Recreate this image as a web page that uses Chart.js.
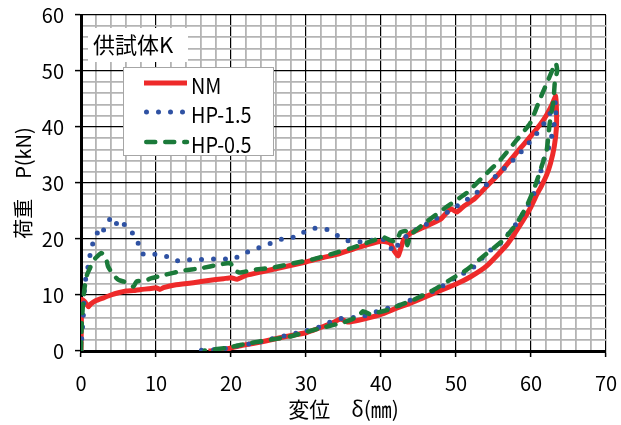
<!DOCTYPE html>
<html lang="ja">
<head>
<meta charset="utf-8">
<script src="https://cdn.jsdelivr.net/npm/chart.js@4.4.1/dist/chart.umd.min.js"></script>
<style>
  html, body { margin: 0; padding: 0; background: #fff; }
  #wrap { width: 621px; height: 425px; position: relative; }
</style>
</head>
<body>
<div id="wrap"><canvas id="c"></canvas></div>
<script>
const FONT = "'Noto Sans CJK JP', sans-serif";

const specimen = '供試体K';
const xTitle = '変位　δ(㎜)';
const yTitle = '荷重　P(kN)';
const seriesNames = ['NM', 'HP-1.5', 'HP-0.5'];
const xMajorTicks = [0, 10, 20, 30, 40, 50, 60, 70];
const yMajorTicks = [0, 10, 20, 30, 40, 50, 60];

// NM: loading branch then unloading branch (δ in mm, P in kN)
const nmX = [0, 0.05, 0.1, 0.5, 1.0, 1.3, 2, 3, 4, 5, 6, 7, 8, 9, 10, 10.5, 11, 12.5, 15, 17, 19, 20, 20.8, 22, 24.3, 27, 30, 32, 34.5, 37, 40, 41.2, 41.8, 42.3, 43, 43.9, 45.2, 47.9, 49.3, 50.1, 51, 52.5, 54.1, 55.7, 57.2, 58.7, 60.3, 61.3, 62.1, 62.8, 63.3,
             63.4, 63.4, 63.1, 62.6, 62.1, 61.4, 60.8, 59.9, 58.5, 56.8, 54.1, 52, 50.1, 47, 44, 42, 39.9, 37, 35.5, 34.6, 33.5, 30.1, 27, 24.3, 21.5, 19.9, 18, 17];
const nmY = [0, 5, 9.2, 8.8, 7.9, 8.4, 9.0, 9.5, 10.0, 10.4, 10.7, 10.8, 11.0, 11.1, 11.3, 11.0, 11.3, 11.8, 12.2, 12.6, 12.9, 13.1, 12.8, 13.5, 14.2, 15.0, 15.9, 16.6, 17.4, 18.5, 19.6, 19.3, 17.8, 17.0, 19.8, 21.0, 21.8, 23.5, 25.4, 24.8, 25.8, 27.2, 29.4, 31.6, 34.0, 36.4, 38.9, 40.6, 42.2, 44.0, 45.5,
             43, 40, 36.5, 33.5, 31.5, 29.5, 28.0, 25.5, 22.4, 19.0, 15.2, 13.3, 12.0, 10.3, 8.6, 7.6, 6.5, 5.5, 5.2, 5.7, 5.0, 3.3, 2.5, 1.7, 1.0, 0.5, 0.1, 0];

// HP-1.5
const hp15X = [0, 0.1, 0.3, 0.5, 0.8, 1.0, 1.2, 1.4, 2.0, 2.5, 3.0, 3.4, 4.0, 4.5, 5.3, 6.2, 7.2, 7.8, 8.3, 9.6, 11.2, 12.5, 14.1, 15.6, 17.3, 18.8, 20.1, 21.6, 23.1, 24.5, 25.7, 27.3, 28.8, 29.7, 31.2, 32.8, 34.2, 35.6, 37.2, 38.8, 40.1, 41.2, 41.6, 42.5, 43.8, 45, 46.4, 47.8, 49.2, 50.5, 51.9, 53.2, 54.4, 55.6, 56.8, 58, 59.1, 60.2, 61.2, 62.1, 62.9, 63.3,
               63.3, 62.8, 62.4, 61.7, 61.1, 60.4, 59.3, 57.9, 55.9, 54.3, 52.2, 49.4, 48.1, 46.8, 45.1, 43.4, 42, 40.4, 38.9, 37.4, 34.6, 33.1, 31.6, 30, 26.8, 25.3, 23.7, 22.2, 20.5, 18.9, 15.7];
const hp15Y = [0, 2.3, 6.1, 11.8, 14.2, 15.4, 17.1, 18.6, 20.4, 22.2, 21.6, 22.8, 23.7, 22.5, 23.5, 21.7, 20.7, 18.6, 17.3, 17.3, 17.0, 16.1, 16.3, 16.3, 16.4, 16.5, 16.3, 17.3, 18.2, 18.75, 19.5, 20.2, 20.4, 21.2, 21.9, 21.7, 20.6, 19.7, 19.5, 19.8, 20.1, 18.75, 17.7, 19.4, 21.0, 21.9, 22.9, 24.0, 25.05, 26.2, 27.4, 28.75, 30.1, 31.6, 33.0, 34.6, 36.2, 37.9, 39.6, 41.4, 43.3, 44.5,
               42, 38.6, 36.5, 34.1, 31, 28.2, 25.3, 22.5, 19.2, 17.7, 14.8, 12.7, 11.5, 10.6, 9.7, 8.8, 7.9, 7.5, 6.8, 6.1, 5.8, 5.1, 4.2, 3.6, 2.6, 2.1, 1.55, 1.2, 0.8, 0.35, 0.1];

// HP-0.5
const hp05X = [0, 0.1, 0.3, 0.5, 0.8, 1.2, 1.6, 2.1, 2.7, 3.3, 3.6, 4.3, 5, 5.9, 7, 7.4, 8.8, 9.4, 11.2, 13.4, 16.1, 18.3, 19.9, 20.5, 21.2, 23, 25.6, 28.3, 31, 33.6, 35.9, 38.1, 40.3, 41.2, 42, 42.6, 43.3, 43.5, 44, 46.1, 48.8, 51.4, 53.6, 55.9, 58.1, 59.9, 61.2, 62.1, 63.3,
               63.5, 63.2, 63, 62.5, 62.1, 61.4, 60.5, 59.4, 58.1, 56.3, 54.1, 51.4, 49.2, 47, 44.3, 42.5, 40.8, 38.5, 37.6, 37, 35.2, 31, 27.9, 25.2, 22.5, 20.3, 19.2, 16.5];
const hp05Y = [0, 4.9, 9.1, 11.5, 13.6, 14.8, 16.1, 16.8, 17.5, 16.8, 15.1, 13.6, 12.7, 12.3, 11.5, 12.4, 12.7, 13, 13.6, 14.3, 14.8, 15.4, 15.7, 14.4, 14.0, 14.5, 14.9, 15.65, 16.4, 17.4, 18.3, 19.3, 20.3, 19.8, 19.5, 21.2, 21.4, 18.9, 20.8, 23.1, 25.8, 28.2, 31.1, 34.1, 37.7, 40.7, 45.0, 47.8, 51.4,
               50, 48.4, 44.8, 40.7, 35.9, 32.9, 29.3, 25.8, 22.8, 19.8, 17.4, 14.5, 12.7, 10.9, 9.1, 8.2, 7.3, 6.6, 7.1, 6.2, 5.2, 3.75, 2.6, 2.0, 1.4, 0.8, 0.5, 0.1];

const toPoints = (xs, ys) => xs.map((x, i) => ({ x, y: ys[i] }));

const styles = [
  { color: '#ee2a2a', width: 5, dash: [], cap: 'butt' },
  { color: '#2f52a3', width: 5, dash: [0, 12], cap: 'round' },
  { color: '#1b7a3a', width: 4.5, dash: [9, 10], cap: 'round' }
];

const seriesData = [toPoints(nmX, nmY), toPoints(hp15X, hp15Y), toPoints(hp05X, hp05Y)];

const datasets = seriesNames.map((name, i) => ({
  label: name,
  data: seriesData[i],
  showLine: true,
  borderColor: styles[i].color,
  backgroundColor: styles[i].color,
  borderWidth: styles[i].width,
  borderDash: styles[i].dash,
  borderCapStyle: styles[i].cap,
  borderJoinStyle: 'round',
  pointRadius: 0,
  tension: 0.15,
  fill: false,
  order: seriesNames.length - 1 - i
}));

const isMajor = (v) => Math.abs(v % 10) < 1e-6;

const grid = {
  color: (c) => (c.tick && isMajor(c.tick.value) ? '#000' : '#b4b4b4'),
  lineWidth: (c) => (c.tick && isMajor(c.tick.value) ? 1.2 : 1.8),
  tickColor: (c) => (c.tick && isMajor(c.tick.value) ? '#000' : 'rgba(0,0,0,0)'),
  tickWidth: 1.5,
  tickLength: 6,
  drawTicks: true
};

// specimen caption and series key, drawn over the plot area
const overlay = {
  id: 'overlay',
  afterDraw(chart) {
    const { ctx, chartArea: a } = chart;
    ctx.save();

    // caption
    ctx.fillStyle = '#fff';
    ctx.fillRect(a.left + 7, a.top + 13, 100, 34);
    ctx.fillStyle = '#000';
    ctx.font = `22px ${FONT}`;
    ctx.textBaseline = 'middle';
    ctx.textAlign = 'left';
    ctx.fillText(specimen, a.left + 12, a.top + 30);

    // key
    const bx = a.left + 42, by = a.top + 52, bw = 150, bh = 88;
    ctx.fillStyle = '#fff';
    ctx.fillRect(bx, by, bw, bh);
    ctx.strokeStyle = '#a6a6a6';
    ctx.lineWidth = 1;
    ctx.strokeRect(bx + 0.5, by + 0.5, bw, bh);

    const rows = [by + 16, by + 45, by + 75];
    seriesNames.forEach((name, i) => {
      const s = styles[i];
      const y = rows[i];
      ctx.save();
      ctx.strokeStyle = s.color;
      ctx.lineWidth = s.width;
      ctx.setLineDash(s.dash);
      ctx.lineCap = s.cap;
      ctx.beginPath();
      const x0 = bx + 21 + (s.cap === 'round' ? s.width / 2 : 0);
      ctx.moveTo(x0, y);
      ctx.lineTo(bx + 64, y);
      ctx.stroke();
      ctx.restore();

      ctx.save();
      ctx.fillStyle = '#000';
      ctx.font = `22px ${FONT}`;
      ctx.textBaseline = 'middle';
      ctx.textAlign = 'left';
      ctx.translate(bx + 68, y + 3);
      ctx.scale(0.9, 1);
      ctx.fillText(name, 0, 0);
      ctx.restore();
    });
    ctx.restore();
  }
};

new Chart(document.getElementById('c'), {
  type: 'scatter',
  data: { datasets },
  options: {
    responsive: true,
    maintainAspectRatio: false,
    animation: false,
    layout: { padding: { left: 0, right: 15, top: 15, bottom: 0 } },
    plugins: { legend: { display: false }, tooltip: { enabled: false } },
    scales: {
      x: {
        type: 'linear',
        min: 0, max: 70,
        afterFit: (s) => { s.height = 74; s.paddingLeft = 0; s.paddingRight = 0; },
        border: { display: true, color: '#000', width: 3 },
        grid,
        ticks: {
          stepSize: 2,
          autoSkip: false,
          maxTicksLimit: 100,
          maxRotation: 0,
          padding: 14,
          color: '#000',
          font: { family: FONT, size: 20 },
          callback: (v) => (xMajorTicks.includes(v) ? String(v) : '')
        },
        title: {
          display: true,
          text: xTitle,
          color: '#000',
          font: { family: FONT, size: 21 },
          padding: { top: 0, bottom: 3 }
        }
      },
      y: {
        type: 'linear',
        min: 0, max: 60,
        afterFit: (s) => { s.width = 81; s.paddingTop = 0; s.paddingBottom = 0; },
        border: { display: true, color: '#000', width: 3 },
        grid,
        ticks: {
          stepSize: 2,
          autoSkip: false,
          maxTicksLimit: 100,
          padding: 11,
          color: '#000',
          font: { family: FONT, size: 20 },
          callback: (v) => (yMajorTicks.includes(v) ? String(v) : '')
        },
        title: {
          display: true,
          text: yTitle,
          color: '#000',
          font: { family: FONT, size: 20 },
          padding: { top: 11, bottom: 0 }
        }
      }
    }
  },
  plugins: [overlay]
});
</script>
</body>
</html>
